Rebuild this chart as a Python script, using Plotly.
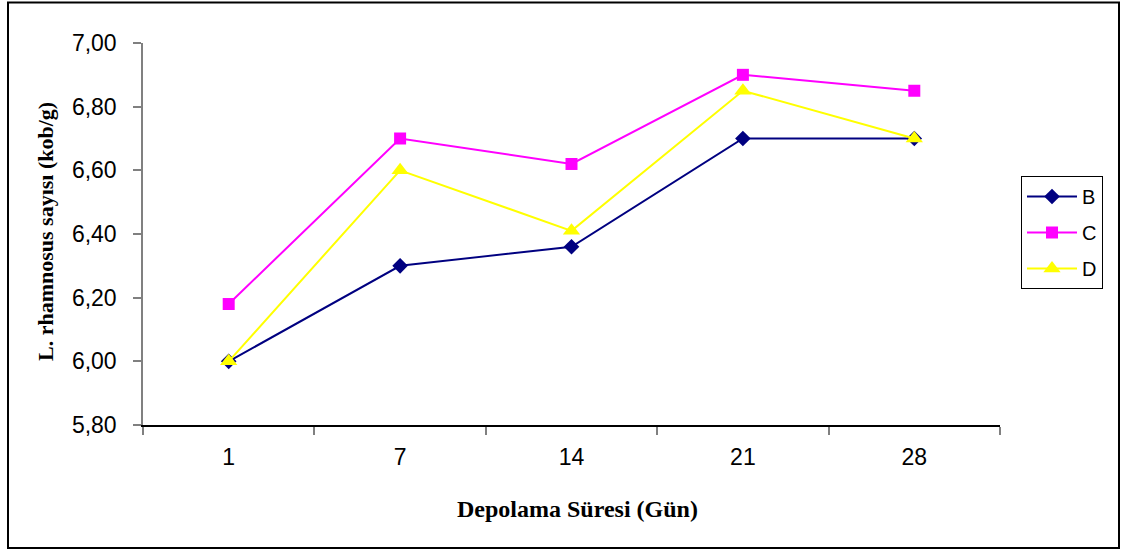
import plotly.graph_objects as go

# Storage days and L. rhamnosus counts per sample group
days = ["1", "7", "14", "21", "28"]
series_b = [6.00, 6.30, 6.36, 6.70, 6.70]
series_c = [6.18, 6.70, 6.62, 6.90, 6.85]
series_d = [6.00, 6.60, 6.41, 6.85, 6.70]
series_names = ["B", "C", "D"]

W, H = 1122, 552
PL, PR, PT, PB = 143, 1000, 43, 425  # plot area edges in pixels


def fx(x):
    return (x - PL) / (PR - PL)


def fy(y):
    return (PB - y) / (PB - PT)


fig = go.Figure()

styles = [
    dict(color="#000080", symbol="diamond", size=12),
    dict(color="#FF00FF", symbol="square", size=12),
    dict(color="#FFFF00", symbol="triangle-up", size=15),
]

for name, vals, st in zip(series_names, [series_b, series_c, series_d], styles):
    fig.add_trace(go.Scatter(
        x=days, y=vals, name=name, mode="lines+markers",
        legendgroup=name,
        line=dict(color=st["color"], width=2),
        marker=dict(symbol=st["symbol"], size=st["size"], color=st["color"],
                    line=dict(width=0)),
        cliponaxis=False,
    ))

axis_font = dict(family="Liberation Sans, Arial, sans-serif", color="#000000")

fig.update_layout(
    width=W, height=H,
    margin=dict(l=PL, r=W - PR, t=PT, b=H - PB, pad=0),
    paper_bgcolor="white", plot_bgcolor="white",
    separators=",.",
    showlegend=True,
    legend=dict(
        x=fx(1021), y=fy(176), xanchor="left", yanchor="top",
        bgcolor="white", bordercolor="#000000", borderwidth=1,
        font=dict(family="Liberation Sans, Arial, sans-serif", size=20, color="#000000"),
        tracegroupgap=7, itemwidth=50,
    ),
    xaxis=dict(
        type="category", showgrid=False, zeroline=False,
        showline=True, linecolor="#000000", linewidth=1.5,
        ticks="outside", tickson="boundaries", ticklen=8, tickcolor="#808080", tickwidth=1.5,
        tickfont=dict(size=23, **axis_font), ticklabelstandoff=11,
        range=[-0.5, 4.5],
    ),
    yaxis=dict(
        range=[5.8, 7.0], showgrid=False, zeroline=False,
        showline=True, linecolor="#808080", linewidth=1.5,
        ticks="outside", ticklen=8, tickcolor="#808080", tickwidth=1.5,
        tickvals=[5.8, 6.0, 6.2, 6.4, 6.6, 6.8, 7.0], tickformat=".2f",
        tickfont=dict(size=23, **axis_font), ticklabelstandoff=12,
    ),
    shapes=[
        dict(type="rect", xref="paper", yref="paper",
             x0=fx(8), x1=fx(1119), y0=fy(548), y1=fy(2.5),
             line=dict(color="#000000", width=2), fillcolor="rgba(0,0,0,0)", layer="below"),
    ],
    annotations=[
        dict(text="<b>L. rhamnosus sayısı (kob/g)</b>", xref="paper", yref="paper",
             x=fx(45), y=fy(232), xanchor="center", yanchor="middle",
             textangle=-90, showarrow=False,
             font=dict(family="Liberation Serif, Times New Roman, serif", size=22, color="#000000")),
        dict(text="<b>Depolama Süresi (Gün)</b>", xref="paper", yref="paper",
             x=fx(577), y=fy(509), xanchor="center", yanchor="middle",
             showarrow=False,
             font=dict(family="Liberation Serif, Times New Roman, serif", size=24, color="#000000")),
    ],
)

fig.write_html("out.html")
